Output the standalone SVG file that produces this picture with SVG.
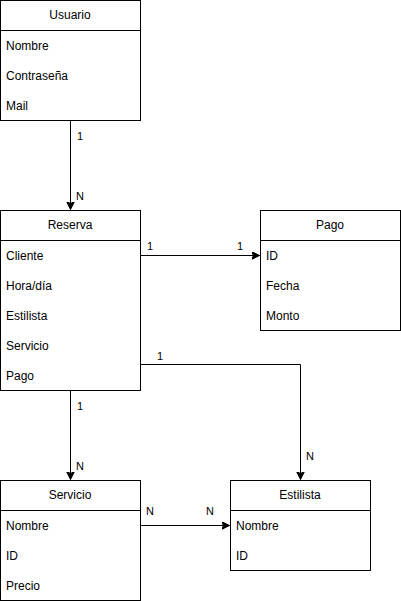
<svg xmlns="http://www.w3.org/2000/svg" width="401" height="601" viewBox="0 0 401 601">
<style>
.box{fill:#fff;stroke:#000;stroke-width:1}
.sep{stroke:#000;stroke-width:1}
.t{font-family:"Liberation Sans",Arial,sans-serif;font-size:12px;fill:#000}
.c{text-anchor:middle}
.lbl{font-family:"Liberation Sans",Arial,sans-serif;font-size:11px;fill:#000;text-anchor:middle}
.edge{fill:none;stroke:#000;stroke-width:1}
</style>
<defs>
<marker id="arr" markerWidth="10" markerHeight="10" refX="8" refY="4" orient="auto" markerUnits="userSpaceOnUse">
<path d="M0,0 L8,4 L0,8 L2,4 z" fill="#000" stroke="#000" stroke-width="1"/>
</marker>
</defs>
<rect width="401" height="601" fill="#fff"/>
<g id="edges">
<path class="edge" d="M70.5,120.5 V209.5" marker-end="url(#arr)"/>
<text class="lbl" x="80" y="140">1</text>
<text class="lbl" x="80" y="200">N</text>
<path class="edge" d="M140.5,255.5 H259.5" marker-end="url(#arr)"/>
<text class="lbl" x="150" y="250">1</text>
<text class="lbl" x="240" y="250">1</text>
<path class="edge" d="M140.5,364.5 H300.5 V479.5" marker-end="url(#arr)"/>
<text class="lbl" x="160" y="360">1</text>
<text class="lbl" x="310" y="460">N</text>
<path class="edge" d="M70.5,390.5 V479.5" marker-end="url(#arr)"/>
<text class="lbl" x="80" y="410">1</text>
<text class="lbl" x="80" y="470">N</text>
<path class="edge" d="M140.5,525.5 H229.5" marker-end="url(#arr)"/>
<text class="lbl" x="150" y="515">N</text>
<text class="lbl" x="210" y="515">N</text>
</g>
<g id="usuario">
<rect class="box" x="0.5" y="0.5" width="140" height="120"/>
<line class="sep" x1="0.5" y1="30.5" x2="140.5" y2="30.5"/>
<text class="t c" x="70" y="19">Usuario</text>
<text class="t" x="6" y="50">Nombre</text>
<text class="t" x="6" y="80">Contraseña</text>
<text class="t" x="6" y="110">Mail</text>
</g>
<g id="reserva">
<rect class="box" x="0.5" y="210.5" width="140" height="180"/>
<line class="sep" x1="0.5" y1="240.5" x2="140.5" y2="240.5"/>
<text class="t c" x="70" y="229">Reserva</text>
<text class="t" x="6" y="260">Cliente</text>
<text class="t" x="6" y="290">Hora/día</text>
<text class="t" x="6" y="320">Estilista</text>
<text class="t" x="6" y="350">Servicio</text>
<text class="t" x="6" y="380">Pago</text>
</g>
<g id="pago">
<rect class="box" x="260.5" y="210.5" width="140" height="120"/>
<line class="sep" x1="260.5" y1="240.5" x2="400.5" y2="240.5"/>
<text class="t c" x="330" y="229">Pago</text>
<text class="t" x="266" y="260">ID</text>
<text class="t" x="266" y="290">Fecha</text>
<text class="t" x="266" y="320">Monto</text>
</g>
<g id="servicio">
<rect class="box" x="0.5" y="480.5" width="140" height="120"/>
<line class="sep" x1="0.5" y1="510.5" x2="140.5" y2="510.5"/>
<text class="t c" x="70" y="499">Servicio</text>
<text class="t" x="6" y="530">Nombre</text>
<text class="t" x="6" y="560">ID</text>
<text class="t" x="6" y="590">Precio</text>
</g>
<g id="estilista">
<rect class="box" x="230.5" y="480.5" width="140" height="90"/>
<line class="sep" x1="230.5" y1="510.5" x2="370.5" y2="510.5"/>
<text class="t c" x="300" y="499">Estilista</text>
<text class="t" x="236" y="530">Nombre</text>
<text class="t" x="236" y="560">ID</text>
</g>
</svg>
